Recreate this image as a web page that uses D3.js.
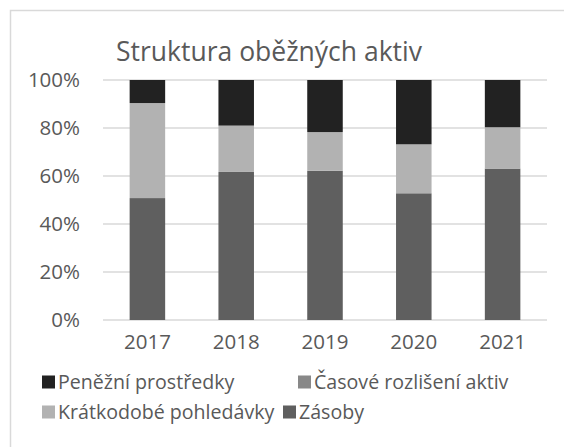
<!DOCTYPE html>
<html>
<head>
<meta charset="utf-8">
<script src="https://cdn.jsdelivr.net/npm/d3@7"></script>
<style>
  body { margin: 0; background: #fff; }
  text { font-family: "Open Sans", sans-serif; fill: #595959; }
</style>
</head>
<body>
<script>
// data (percent of current assets)
var years = ["2017", "2018", "2019", "2020", "2021"];
var zasoby = [50.8, 61.7, 62.2, 52.8, 63.1];
var pohledavky = [39.6, 19.3, 16.1, 20.4, 17.0];
var casove = [0.0, 0.0, 0.0, 0.0, 0.3];
var penezni = [9.6, 19.0, 21.7, 26.8, 19.6];
var yTicks = [0, 20, 40, 60, 80, 100];

var seriesNames = ["Zásoby", "Krátkodobé pohledávky", "Časové rozlišení aktiv", "Peněžní prostředky"];
var seriesColors = ["#5f5f5f", "#b2b2b2", "#888888", "#222222"];

var width = 564, height = 447;
var margin = {top: 80, right: 17, bottom: 127, left: 103};

var svg = d3.select("body").append("svg")
    .attr("width", width)
    .attr("height", height);

// chart frame
svg.append("rect")
    .attr("x", 10.5).attr("y", 10.5)
    .attr("width", 600).attr("height", 600)
    .attr("fill", "#fff")
    .attr("stroke", "#d9d9d9")
    .attr("stroke-width", 1.5);

// build rows for the stack
var rows = years.map(function(y, i) {
    return {year: y, "Zásoby": zasoby[i], "Krátkodobé pohledávky": pohledavky[i],
            "Časové rozlišení aktiv": casove[i], "Peněžní prostředky": penezni[i]};
});
var stacked = d3.stack().keys(seriesNames)(rows);

var xScale = d3.scaleBand()
    .domain(years)
    .range([margin.left, width - margin.right])
    .paddingInner(0.6)
    .paddingOuter(0.3);

var yScale = d3.scaleLinear()
    .domain([0, 100])
    .range([height - margin.bottom, margin.top]);

// gridlines
svg.append("g")
    .selectAll("line")
    .data(yTicks)
    .enter().append("line")
    .attr("x1", margin.left)
    .attr("x2", width - margin.right)
    .attr("y1", function(d) { return yScale(d); })
    .attr("y2", function(d) { return yScale(d); })
    .attr("stroke", "#d9d9d9")
    .attr("stroke-width", 1.5);

// y labels
var yAxis = d3.axisLeft(yScale)
    .tickValues(yTicks)
    .tickFormat(function(d) { return d + "%"; })
    .tickSize(0)
    .tickPadding(23);
var gy = svg.append("g")
    .attr("transform", "translate(" + margin.left + ",0)")
    .call(yAxis);
gy.select(".domain").remove();
gy.selectAll("text")
    .attr("font-size", "20.5px")
    .attr("font-family", "Open Sans")
    .attr("fill", "#595959");

// bars
svg.append("g")
    .selectAll("g")
    .data(stacked)
    .enter().append("g")
    .attr("fill", function(d, i) { return seriesColors[i]; })
    .selectAll("rect")
    .data(function(d) { return d; })
    .enter().append("rect")
    .attr("x", function(d) { return xScale(d.data.year); })
    .attr("width", xScale.bandwidth())
    .attr("y", function(d) { return yScale(d[1]); })
    .attr("height", function(d) { return yScale(d[0]) - yScale(d[1]); });

// x labels
var xAxis = d3.axisBottom(xScale).tickSize(0).tickPadding(14);
var gx = svg.append("g")
    .attr("transform", "translate(0," + yScale(0) + ")")
    .call(xAxis);
gx.select(".domain").remove();
gx.selectAll("text")
    .attr("font-size", "20.5px")
    .attr("font-family", "Open Sans")
    .attr("fill", "#595959");

// title
svg.append("text")
    .attr("x", 269)
    .attr("y", 61)
    .attr("text-anchor", "middle")
    .attr("font-size", "26.5px")
    .text("Struktura oběžných aktiv");

// legend (two rows, Excel-style order)
var legendItems = [
    {name: "Peněžní prostředky", color: seriesColors[3], x: 42, y: 382},
    {name: "Časové rozlišení aktiv", color: seriesColors[2], x: 298, y: 382},
    {name: "Krátkodobé pohledávky", color: seriesColors[1], x: 42, y: 412},
    {name: "Zásoby", color: seriesColors[0], x: 283, y: 412}
];
var legend = svg.append("g")
    .selectAll("g")
    .data(legendItems)
    .enter().append("g")
    .attr("transform", function(d) { return "translate(" + d.x + "," + d.y + ")"; });
legend.append("rect")
    .attr("x", 0).attr("y", -6.5)
    .attr("width", 13).attr("height", 13)
    .attr("fill", function(d) { return d.color; });
legend.append("text")
    .attr("x", 16)
    .attr("y", 7)
    .attr("font-size", "19.6px")
    .text(function(d) { return d.name; });
</script>
</body>
</html>
